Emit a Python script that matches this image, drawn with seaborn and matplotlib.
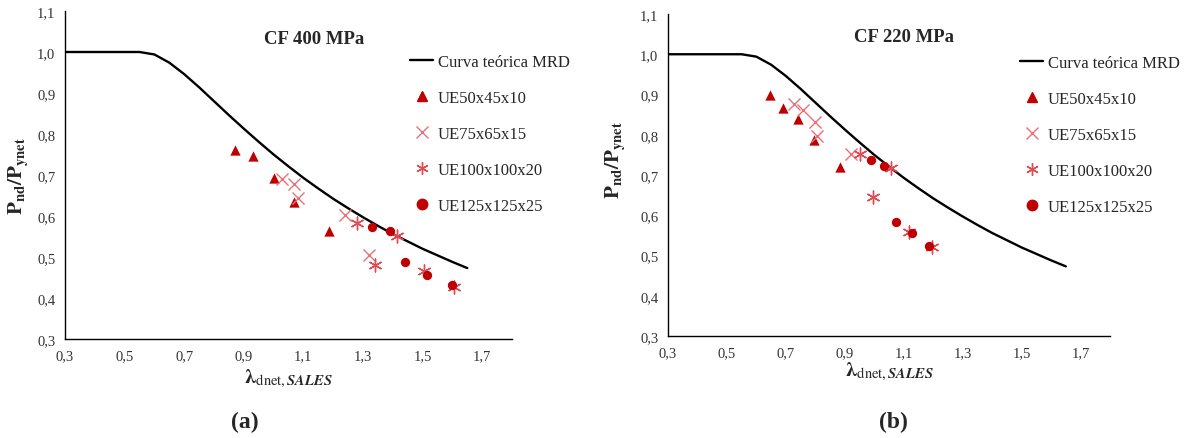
import matplotlib
matplotlib.use("Agg")
import matplotlib.pyplot as plt
from matplotlib.lines import Line2D
import seaborn as sns
import pandas as pd

# ---------------- data ----------------
x_ticks = [0.3, 0.5, 0.7, 0.9, 1.1, 1.3, 1.5, 1.7]
x_tick_labels = ["0,3", "0,5", "0,7", "0,9", "1,1", "1,3", "1,5", "1,7"]
y_ticks = [0.3, 0.4, 0.5, 0.6, 0.7, 0.8, 0.9, 1.0, 1.1]
y_tick_labels = ["0,3", "0,4", "0,5", "0,6", "0,7", "0,8", "0,9", "1,0", "1,1"]

# MRD theoretical curve
curve_x = [0.30, 0.40, 0.50, 0.55, 0.60, 0.65, 0.70, 0.75, 0.80, 0.85, 0.90, 0.95,
           1.00, 1.05, 1.10, 1.15, 1.20, 1.25, 1.30, 1.35, 1.40, 1.45, 1.50, 1.55,
           1.60, 1.65]
curve_y = [1.000, 1.000, 1.000, 1.000, 0.994, 0.974, 0.946, 0.914, 0.880, 0.846,
           0.813, 0.781, 0.750, 0.721, 0.693, 0.667, 0.642, 0.619, 0.597, 0.576,
           0.556, 0.538, 0.520, 0.504, 0.488, 0.473]

series_names = ["UE50x45x10", "UE75x65x15", "UE100x100x20", "UE125x125x25"]

# Panel (a) CF 400 MPa
a_ue50_x = [0.870, 0.931, 1.000, 1.068, 1.186]
a_ue50_y = [0.761, 0.747, 0.692, 0.634, 0.563]
a_ue75_x = [1.027, 1.070, 1.083, 1.240, 1.319]
a_ue75_y = [0.691, 0.677, 0.645, 0.602, 0.505]
a_ue100_x = [1.280, 1.339, 1.415, 1.505, 1.607]
a_ue100_y = [0.584, 0.480, 0.551, 0.465, 0.427]
a_ue125_x = [1.329, 1.389, 1.440, 1.515, 1.598]
a_ue125_y = [0.573, 0.564, 0.489, 0.457, 0.431]

# Panel (b) CF 220 MPa
b_ue50_x = [0.646, 0.690, 0.742, 0.794, 0.885]
b_ue50_y = [0.900, 0.867, 0.840, 0.786, 0.720]
b_ue75_x = [0.729, 0.759, 0.798, 0.804, 0.922]
b_ue75_y = [0.877, 0.861, 0.832, 0.798, 0.752]
b_ue100_x = [0.951, 1.056, 0.996, 1.118, 1.195]
b_ue100_y = [0.752, 0.717, 0.646, 0.559, 0.520]
b_ue125_x = [0.988, 1.032, 1.073, 1.127, 1.186]
b_ue125_y = [0.737, 0.723, 0.583, 0.555, 0.523]

# ---------------- style ----------------
sns.set_theme(style="white")
plt.rcParams["font.family"] = ["Liberation Serif", "DejaVu Serif"]
plt.rcParams["mathtext.fontset"] = "stix"

DARK = "#C00000"
LIGHT = "#E8707A"
MID = "#E04A55"
ASTER = (6, 2, 0)

styles = {
    "UE50x45x10": dict(marker="^", color=DARK, s=55, lw=0),
    "UE75x65x15": dict(marker="x", color=LIGHT, s=75, lw=1.0),
    "UE100x100x20": dict(marker=ASTER, color=MID, s=85, lw=1.0),
    "UE125x125x25": dict(marker="o", color=DARK, s=45, lw=0),
}

W, H = 1185, 439
fig = plt.figure(figsize=(W / 100, H / 100), dpi=100)


def px_axes(x0, x1, y0, y1):
    return fig.add_axes([x0 / W, 1 - y1 / H, (x1 - x0) / W, (y1 - y0) / H])


def draw_panel(ax, data, title, title_xy, leg_anchor, letter, letter_x,
               ylab_xy, xlab_y):
    sns.lineplot(x=curve_x, y=curve_y, ax=ax, color="black", lw=1.7, sort=False,
                 legend=False)
    for name, (xs, ys) in zip(series_names, data):
        st = styles[name]
        df = pd.DataFrame({"x": xs, "y": ys})
        sns.scatterplot(data=df, x="x", y="y", ax=ax, marker=st["marker"],
                        color=st["color"], s=st["s"], linewidth=st["lw"],
                        edgecolor=st["color"] if st["lw"] == 0 else None,
                        legend=False, zorder=3)
    ax.set_xlim(0.3, 1.8)
    ax.set_ylim(0.3, 1.1)
    ax.set_xticks(x_ticks)
    ax.set_xticklabels(x_tick_labels)
    ax.set_yticks(y_ticks)
    ax.set_yticklabels(y_tick_labels)
    ax.tick_params(axis="both", length=0, labelsize=10.5, colors="#333333")
    ax.tick_params(axis="y", pad=7)
    ax.tick_params(axis="x", pad=7)
    for side in ["top", "right"]:
        ax.spines[side].set_visible(False)
    for side in ["left", "bottom"]:
        ax.spines[side].set_color("black")
        ax.spines[side].set_linewidth(1.0)
    ax.set_ylabel(r"$\mathbf{P_{nd}/P_{ynet}}$", fontsize=15)
    ax.yaxis.set_label_coords(*ylab_xy)
    ax.set_xlabel(r"$\mathbf{\lambda}_{\mathrm{dnet,}\mathbfit{SALES}}$", fontsize=15)
    ax.xaxis.set_label_coords(0.5, xlab_y)
    ax.text(title_xy[0], title_xy[1], title, fontsize=13.5, fontweight="bold",
            ha="center", va="center", transform=fig.transFigure)

    handles = [Line2D([0], [0], color="black", lw=1.7)]
    for name in series_names:
        st = styles[name]
        if st["lw"] == 0:
            handles.append(Line2D([0], [0], ls="none", marker=st["marker"],
                                  color=st["color"], markersize=7.5))
        else:
            handles.append(Line2D([0], [0], ls="none", marker=st["marker"],
                                  color=st["color"], markersize=9, mew=1.0))
    labels = ["Curva teórica MRD"] + series_names
    ax.legend(handles, labels, loc="upper left", bbox_to_anchor=leg_anchor,
              bbox_transform=fig.transFigure, frameon=False, fontsize=12,
              handlelength=1.4, handletextpad=0.25, labelspacing=1.2,
              borderpad=0, borderaxespad=0)
    fig.text(letter_x, 1 - 422 / H, letter, fontsize=17, fontweight="bold",
             ha="center", va="center")


ax1 = px_axes(65, 512, 12, 340)
draw_panel(ax1,
           [(a_ue50_x, a_ue50_y), (a_ue75_x, a_ue75_y),
            (a_ue100_x, a_ue100_y), (a_ue125_x, a_ue125_y)],
           "CF 400 MPa", (314 / W, 1 - 39 / H), (410 / W, 1 - 55 / H),
           "(a)", 245 / W, (-0.075, 0.50), -0.085)

ax2 = px_axes(668, 1110, 15, 337)
draw_panel(ax2,
           [(b_ue50_x, b_ue50_y), (b_ue75_x, b_ue75_y),
            (b_ue100_x, b_ue100_y), (b_ue125_x, b_ue125_y)],
           "CF 220 MPa", (904 / W, 1 - 37 / H), (1020 / W, 1 - 56 / H),
           "(b)", 893 / W, (-0.09, 0.55), -0.075)

fig.savefig("out.png", dpi=100)
